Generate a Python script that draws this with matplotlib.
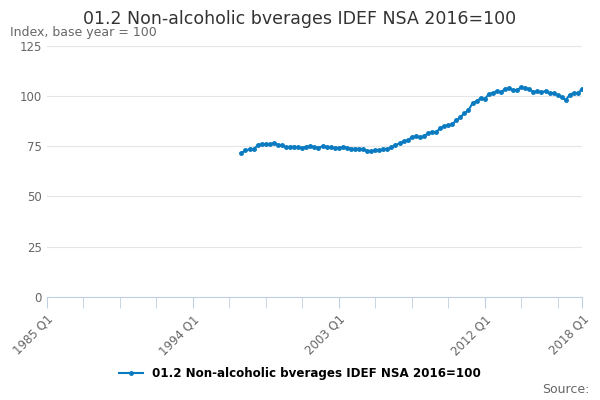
import numpy as np
import matplotlib.pyplot as plt

start_year = 1997
values = [71.7, 73, 73.5, 73.5,
          75.5, 76.2, 76, 76,
          76.5, 75.8, 75.5, 74.5,
          74.8, 74.8, 74.5, 74.2,
          74.8, 75, 74.6, 74.3,
          75, 74.8, 74.5, 74.3,
          74.2, 74.6, 74.3, 73.8,
          73.8, 73.8, 73.5, 72.8,
          72.5, 73, 73, 73.6,
          73.5, 74.5, 75.5, 76.5,
          77.5, 78, 79.5, 80,
          79.5, 80, 81.5, 82,
          82, 84, 85, 85.5,
          86, 88, 89.5, 91.5,
          93, 96.5, 97.5, 99,
          98.5, 101, 101.5, 102.5,
          102, 103.5, 104, 103,
          103, 104.5, 104, 103.5,
          102, 102.5, 102, 102.5,
          101.5, 101.5, 100.5, 99.5,
          98, 100.8, 101.5, 101.5,
          103.5]
tick_labels = ["1985 Q1", "1994 Q1", "2003 Q1", "2012 Q1", "2018 Q1"]
label = "01.2 Non-alcoholic bverages IDEF NSA 2016=100"

# x in quarters since 1985 Q1
x = (start_year - 1985) * 4 + np.arange(len(values))
tick_pos = [(int(t[:4]) - 1985) * 4 for t in tick_labels]

fig = plt.figure(figsize=(6, 4), dpi=100)
ax = fig.add_axes([0.078, 0.258, 0.892, 0.627])
ax.plot(x, values, color="#0a7bc1", marker="o", markersize=2.5, linewidth=1.5, label=label)
ax.set_xlim(0, 132)
ax.set_ylim(0, 125)
ax.set_yticks([0, 25, 50, 75, 100, 125])
ax.grid(axis="y", color="#e5e5e5", linewidth=0.8)
ax.set_axisbelow(True)
ax.set_xticks(tick_pos)
ax.set_xticklabels(tick_labels, rotation=45, ha="right", rotation_mode="anchor", color="#666666", fontsize=8.5)
ax.set_xticks(np.arange(0, 133, 9), minor=True)
ax.tick_params(axis="x", which="both", length=8, color="#c0d0e0")
ax.tick_params(axis="y", length=0, labelcolor="#666666", labelsize=8.5)
for s in ["top", "right", "left"]:
    ax.spines[s].set_visible(False)
ax.spines["bottom"].set_color("#c0d0e0")

fig.text(0.5, 0.975, label, ha="center", va="top", fontsize=12.5, color="#333333")
fig.text(0.017, 0.935, "Index, base year = 100", ha="left", va="top", fontsize=9, color="#666666")
fig.legend(loc="center", bbox_to_anchor=(0.5, 0.067), frameon=False,
           prop={"weight": "bold", "size": 8.6}, handlelength=2)
fig.text(0.982, 0.01, "Source:", ha="right", va="bottom", fontsize=9, color="#666666")
fig.savefig("out.png")
